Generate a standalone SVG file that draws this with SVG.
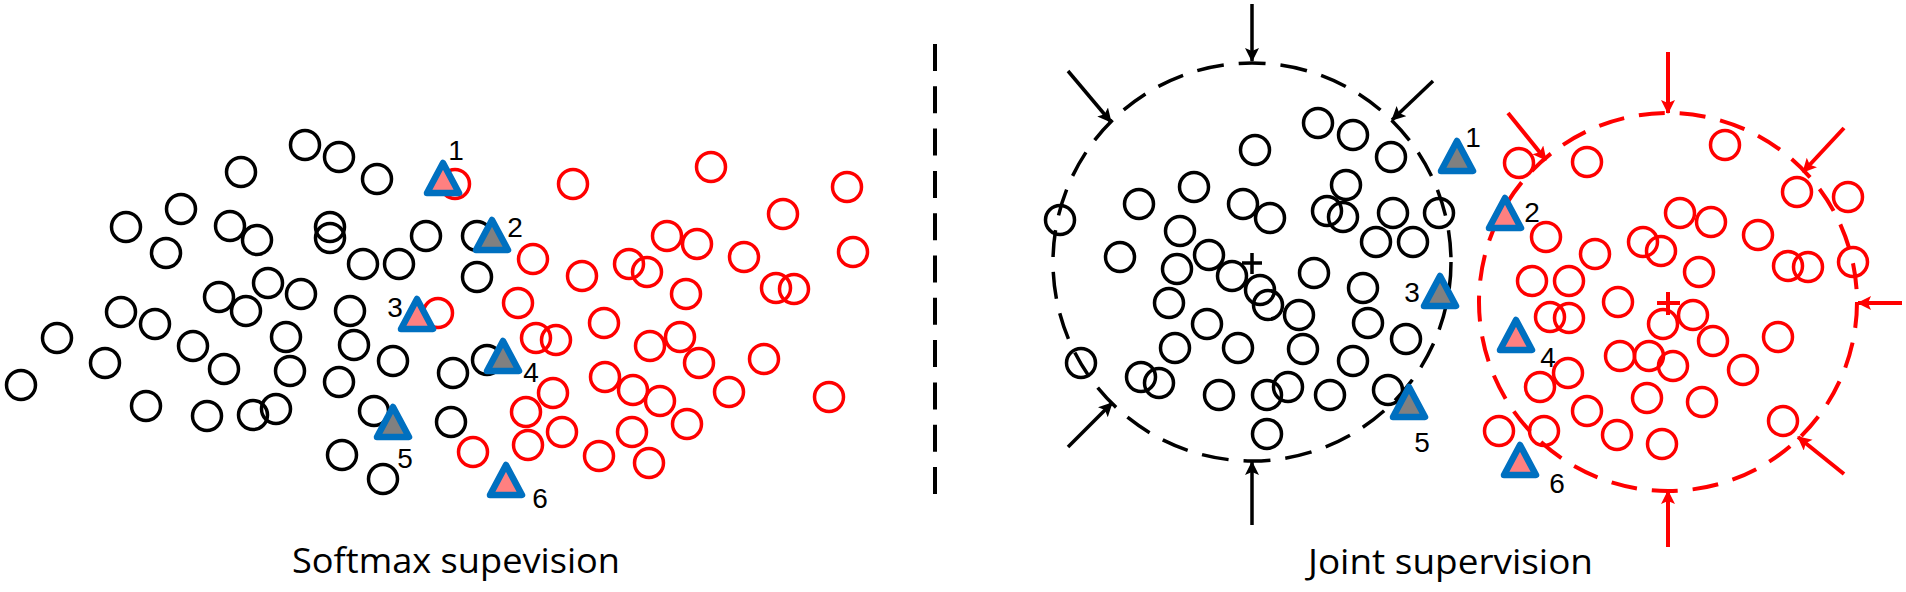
<svg xmlns="http://www.w3.org/2000/svg" width="1906" height="592" viewBox="0 0 1906 592">
<style>
.cb{fill:none;stroke:#000;stroke-width:3.5}
.cr{fill:none;stroke:#FF0000;stroke-width:3.5}
.tp{fill:#FF8080;stroke:#0070C0;stroke-width:6.5;stroke-linejoin:round}
.tg{fill:#808080;stroke:#0070C0;stroke-width:6.5;stroke-linejoin:round}
.lbl{font-family:"Liberation Sans",Arial,sans-serif;font-size:28px;fill:#000;text-anchor:middle}
.title{font-family:"Open Sans","Liberation Sans",sans-serif;font-size:35px;fill:#000}
.ab{stroke:#000;stroke-width:3.5;fill:none;marker-end:url(#hb)}
.ar{stroke:#FF0000;stroke-width:4;fill:none;marker-end:url(#hr)}
</style>
<defs>
<path id="tri" d="M0,-17 L16,13 L-16,13 Z"/>
<marker id="hb" markerUnits="userSpaceOnUse" markerWidth="16" markerHeight="16" refX="13" refY="7" orient="auto"><path d="M0,0 L14,7 L0,14 L3,7 Z" fill="#000"/></marker>
<marker id="hr" markerUnits="userSpaceOnUse" markerWidth="16" markerHeight="16" refX="13" refY="7" orient="auto"><path d="M0,0 L14,7 L0,14 L3,7 Z" fill="#FF0000"/></marker>
</defs>
<rect width="1906" height="592" fill="#fff"/>

<g id="divider"><line x1="935" y1="44" x2="935" y2="494" stroke="#000" stroke-width="4" stroke-dasharray="27 15.3"/></g>

<g id="left-black">
<circle class="cb" cx="21" cy="385" r="14.5"/><circle class="cb" cx="57" cy="338" r="14.5"/><circle class="cb" cx="105" cy="363" r="14.5"/><circle class="cb" cx="121" cy="312" r="14.5"/><circle class="cb" cx="155" cy="324" r="14.5"/><circle class="cb" cx="126" cy="227" r="14.5"/><circle class="cb" cx="166" cy="253" r="14.5"/><circle class="cb" cx="181" cy="209" r="14.5"/><circle class="cb" cx="230" cy="226" r="14.5"/><circle class="cb" cx="257" cy="240" r="14.5"/><circle class="cb" cx="241" cy="172" r="14.5"/><circle class="cb" cx="305" cy="145" r="14.5"/><circle class="cb" cx="339" cy="157" r="14.5"/><circle class="cb" cx="377" cy="179" r="14.5"/><circle class="cb" cx="330" cy="227" r="14.5"/><circle class="cb" cx="330" cy="238" r="14.5"/><circle class="cb" cx="363" cy="264" r="14.5"/><circle class="cb" cx="399" cy="264" r="14.5"/><circle class="cb" cx="426" cy="236" r="14.5"/><circle class="cb" cx="477" cy="236" r="14.5"/><circle class="cb" cx="477" cy="277" r="14.5"/><circle class="cb" cx="219" cy="297" r="14.5"/><circle class="cb" cx="268" cy="283" r="14.5"/><circle class="cb" cx="246" cy="311" r="14.5"/><circle class="cb" cx="301" cy="294" r="14.5"/><circle class="cb" cx="286" cy="337" r="14.5"/><circle class="cb" cx="193" cy="346" r="14.5"/><circle class="cb" cx="224" cy="369" r="14.5"/><circle class="cb" cx="290" cy="371" r="14.5"/><circle class="cb" cx="350" cy="311" r="14.5"/><circle class="cb" cx="354" cy="345" r="14.5"/><circle class="cb" cx="393" cy="361" r="14.5"/><circle class="cb" cx="339" cy="382" r="14.5"/><circle class="cb" cx="453" cy="373" r="14.5"/><circle class="cb" cx="487" cy="360" r="14.5"/><circle class="cb" cx="146" cy="406" r="14.5"/><circle class="cb" cx="207" cy="416" r="14.5"/><circle class="cb" cx="253" cy="415" r="14.5"/><circle class="cb" cx="276" cy="409" r="14.5"/><circle class="cb" cx="374" cy="411" r="14.5"/><circle class="cb" cx="342" cy="455" r="14.5"/><circle class="cb" cx="383" cy="479" r="14.5"/><circle class="cb" cx="451" cy="422" r="14.5"/>
</g>

<g id="left-red">
<circle class="cr" cx="455" cy="184" r="14.5"/><circle class="cr" cx="573" cy="184" r="14.5"/><circle class="cr" cx="711" cy="167" r="14.5"/><circle class="cr" cx="847" cy="187" r="14.5"/><circle class="cr" cx="783" cy="214" r="14.5"/><circle class="cr" cx="667" cy="236" r="14.5"/><circle class="cr" cx="697" cy="244" r="14.5"/><circle class="cr" cx="629" cy="264" r="14.5"/><circle class="cr" cx="647" cy="272" r="14.5"/><circle class="cr" cx="744" cy="257" r="14.5"/><circle class="cr" cx="853" cy="252" r="14.5"/><circle class="cr" cx="686" cy="294" r="14.5"/><circle class="cr" cx="776" cy="288" r="14.5"/><circle class="cr" cx="794" cy="289" r="14.5"/><circle class="cr" cx="533" cy="259" r="14.5"/><circle class="cr" cx="582" cy="276" r="14.5"/><circle class="cr" cx="518" cy="303" r="14.5"/><circle class="cr" cx="438" cy="313" r="14.5"/><circle class="cr" cx="536" cy="338" r="14.5"/><circle class="cr" cx="556" cy="340" r="14.5"/><circle class="cr" cx="604" cy="323" r="14.5"/><circle class="cr" cx="650" cy="346" r="14.5"/><circle class="cr" cx="680" cy="337" r="14.5"/><circle class="cr" cx="699" cy="363" r="14.5"/><circle class="cr" cx="764" cy="359" r="14.5"/><circle class="cr" cx="605" cy="377" r="14.5"/><circle class="cr" cx="553" cy="393" r="14.5"/><circle class="cr" cx="526" cy="412" r="14.5"/><circle class="cr" cx="562" cy="432" r="14.5"/><circle class="cr" cx="599" cy="456" r="14.5"/><circle class="cr" cx="633" cy="390" r="14.5"/><circle class="cr" cx="660" cy="401" r="14.5"/><circle class="cr" cx="632" cy="432" r="14.5"/><circle class="cr" cx="649" cy="463" r="14.5"/><circle class="cr" cx="687" cy="424" r="14.5"/><circle class="cr" cx="729" cy="392" r="14.5"/><circle class="cr" cx="829" cy="397" r="14.5"/><circle class="cr" cx="473" cy="452" r="14.5"/><circle class="cr" cx="528" cy="445" r="14.5"/>
</g>

<g id="left-triangles">
<use href="#tri" class="tp" x="443" y="180"/><use href="#tri" class="tg" x="492" y="237"/><use href="#tri" class="tp" x="417" y="316"/><use href="#tri" class="tg" x="503" y="358"/><use href="#tri" class="tg" x="393" y="424"/><use href="#tri" class="tp" x="506" y="482"/>
<text class="lbl" x="456" y="160">1</text><text class="lbl" x="515" y="237">2</text><text class="lbl" x="395" y="317">3</text><text class="lbl" x="531" y="382">4</text><text class="lbl" x="405" y="468">5</text><text class="lbl" x="540" y="508">6</text>
</g>

<g id="right-black">
<circle cx="1252" cy="262" r="199" fill="none" stroke="#000" stroke-width="3.5" stroke-dasharray="27 15"/>
<path d="M1242,263 H1262 M1252,253 V274" stroke="#000" stroke-width="3.5"/>
<circle class="cb" cx="1318" cy="123" r="14.5"/><circle class="cb" cx="1353" cy="135" r="14.5"/><circle class="cb" cx="1255" cy="150" r="14.5"/><circle class="cb" cx="1391" cy="157" r="14.5"/><circle class="cb" cx="1346" cy="185" r="14.5"/><circle class="cb" cx="1194" cy="187" r="14.5"/><circle class="cb" cx="1139" cy="204" r="14.5"/><circle class="cb" cx="1243" cy="204" r="14.5"/><circle class="cb" cx="1270" cy="218" r="14.5"/><circle class="cb" cx="1327" cy="211" r="14.5"/><circle class="cb" cx="1343" cy="217" r="14.5"/><circle class="cb" cx="1393" cy="213" r="14.5"/><circle class="cb" cx="1439" cy="213" r="14.5"/><circle class="cb" cx="1376" cy="242" r="14.5"/><circle class="cb" cx="1413" cy="242" r="14.5"/><circle class="cb" cx="1060" cy="220" r="14.5"/><circle class="cb" cx="1180" cy="231" r="14.5"/><circle class="cb" cx="1120" cy="257" r="14.5"/><circle class="cb" cx="1177" cy="269" r="14.5"/><circle class="cb" cx="1209" cy="255" r="14.5"/><circle class="cb" cx="1232" cy="276" r="14.5"/><circle class="cb" cx="1260" cy="290" r="14.5"/><circle class="cb" cx="1268" cy="305" r="14.5"/><circle class="cb" cx="1314" cy="273" r="14.5"/><circle class="cb" cx="1363" cy="288" r="14.5"/><circle class="cb" cx="1169" cy="303" r="14.5"/><circle class="cb" cx="1207" cy="324" r="14.5"/><circle class="cb" cx="1299" cy="315" r="14.5"/><circle class="cb" cx="1368" cy="323" r="14.5"/><circle class="cb" cx="1406" cy="339" r="14.5"/><circle class="cb" cx="1175" cy="348" r="14.5"/><circle class="cb" cx="1238" cy="348" r="14.5"/><circle class="cb" cx="1303" cy="349" r="14.5"/><circle class="cb" cx="1353" cy="361" r="14.5"/><circle class="cb" cx="1081" cy="363" r="14.5"/><circle class="cb" cx="1141" cy="377" r="14.5"/><circle class="cb" cx="1159" cy="383" r="14.5"/><circle class="cb" cx="1219" cy="395" r="14.5"/><circle class="cb" cx="1267" cy="395" r="14.5"/><circle class="cb" cx="1288" cy="387" r="14.5"/><circle class="cb" cx="1330" cy="395" r="14.5"/><circle class="cb" cx="1388" cy="390" r="14.5"/><circle class="cb" cx="1267" cy="434" r="14.5"/>
</g>

<g id="right-red">
<circle cx="1668" cy="302" r="189" fill="none" stroke="#FF0000" stroke-width="4" stroke-dasharray="26 15"/>
<path d="M1657,303 H1680 M1668,292 V315" stroke="#FF0000" stroke-width="4"/>
<circle class="cr" cx="1519" cy="163" r="14.5"/><circle class="cr" cx="1587" cy="162" r="14.5"/><circle class="cr" cx="1725" cy="145" r="14.5"/><circle class="cr" cx="1797" cy="192" r="14.5"/><circle class="cr" cx="1848" cy="197" r="14.5"/><circle class="cr" cx="1546" cy="237" r="14.5"/><circle class="cr" cx="1595" cy="254" r="14.5"/><circle class="cr" cx="1643" cy="242" r="14.5"/><circle class="cr" cx="1661" cy="251" r="14.5"/><circle class="cr" cx="1680" cy="213" r="14.5"/><circle class="cr" cx="1711" cy="222" r="14.5"/><circle class="cr" cx="1758" cy="235" r="14.5"/><circle class="cr" cx="1788" cy="266" r="14.5"/><circle class="cr" cx="1808" cy="267" r="14.5"/><circle class="cr" cx="1853" cy="262" r="14.5"/><circle class="cr" cx="1532" cy="281" r="14.5"/><circle class="cr" cx="1569" cy="281" r="14.5"/><circle class="cr" cx="1699" cy="272" r="14.5"/><circle class="cr" cx="1618" cy="302" r="14.5"/><circle class="cr" cx="1663" cy="324" r="14.5"/><circle class="cr" cx="1693" cy="315" r="14.5"/><circle class="cr" cx="1713" cy="341" r="14.5"/><circle class="cr" cx="1550" cy="317" r="14.5"/><circle class="cr" cx="1569" cy="318" r="14.5"/><circle class="cr" cx="1620" cy="356" r="14.5"/><circle class="cr" cx="1649" cy="356" r="14.5"/><circle class="cr" cx="1673" cy="366" r="14.5"/><circle class="cr" cx="1778" cy="337" r="14.5"/><circle class="cr" cx="1743" cy="370" r="14.5"/><circle class="cr" cx="1568" cy="373" r="14.5"/><circle class="cr" cx="1540" cy="387" r="14.5"/><circle class="cr" cx="1587" cy="411" r="14.5"/><circle class="cr" cx="1647" cy="398" r="14.5"/><circle class="cr" cx="1702" cy="402" r="14.5"/><circle class="cr" cx="1783" cy="421" r="14.5"/><circle class="cr" cx="1499" cy="431" r="14.5"/><circle class="cr" cx="1544" cy="431" r="14.5"/><circle class="cr" cx="1617" cy="435" r="14.5"/><circle class="cr" cx="1662" cy="444" r="14.5"/>
</g>

<g id="right-triangles">
<use href="#tri" class="tg" x="1457" y="158"/><use href="#tri" class="tp" x="1505" y="215"/><use href="#tri" class="tg" x="1440" y="293"/><use href="#tri" class="tp" x="1516" y="337"/><use href="#tri" class="tg" x="1409" y="404"/><use href="#tri" class="tp" x="1520" y="462"/>
<text class="lbl" x="1473" y="147">1</text><text class="lbl" x="1532" y="222">2</text><text class="lbl" x="1412" y="302">3</text><text class="lbl" x="1548" y="367">4</text><text class="lbl" x="1422" y="452">5</text><text class="lbl" x="1557" y="493">6</text>
</g>

<g id="connectors">
<line class="ab" x1="1252" y1="4" x2="1252" y2="61"/>
<line class="ab" x1="1068" y1="71" x2="1111" y2="122"/>
<line class="ab" x1="1433" y1="81" x2="1392" y2="120"/>
<line class="ab" x1="1068" y1="447" x2="1112" y2="403"/>
<line class="ab" x1="1252" y1="525" x2="1252" y2="462"/>
<line class="ar" x1="1668" y1="52" x2="1668" y2="113"/>
<line class="ar" x1="1508" y1="113" x2="1546" y2="160"/>
<line class="ar" x1="1844" y1="128" x2="1803" y2="172"/>
<line class="ar" x1="1902" y1="303" x2="1858" y2="303"/>
<line class="ar" x1="1844" y1="474" x2="1798" y2="437"/>
<line class="ar" x1="1668" y1="547" x2="1668" y2="491"/>
</g>

<g id="titles">
<text class="title" x="292" y="573" textLength="328" lengthAdjust="spacingAndGlyphs">Softmax supevision</text>
<text class="title" x="1308" y="574" textLength="285" lengthAdjust="spacingAndGlyphs">Joint supervision</text>
</g>
</svg>
